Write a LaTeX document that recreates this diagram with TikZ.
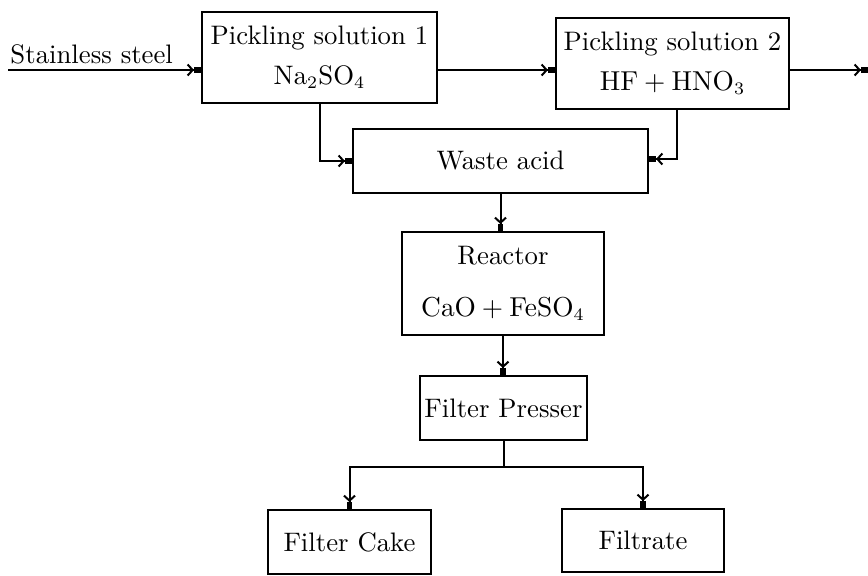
\documentclass[tikz,border=0pt]{standalone}
\usepackage{tikz}
\usetikzlibrary{arrows.meta, positioning, calc}

\begin{document}
\begin{tikzpicture}[x=0.4pt, y=-0.4pt, font=\fontsize{10.7}{13}\selectfont,
        box/.style={draw, line width=0.8pt, align=center, inner sep=0pt},
        flow/.style={line width=0.8pt,
                     -{Straight Barb[length=2pt,width=4.4pt]Square[length=2.8pt,width=2.2pt]}}
    ]
        \useasboundingbox (0,0) rectangle (868,575);

        \node[box, minimum width=94pt,   minimum height=36.4pt] (pick1)   at (319.5,57.5) {Pickling solution 1\\[3pt]Na$_2$SO$_4$};
        \node[box, minimum width=93.2pt, minimum height=36.4pt] (pick2)   at (672.5,63.5) {Pickling solution 2\\[3pt]$\mathrm{HF+HNO_3}$};
        \node[box, minimum width=118pt,  minimum height=25.6pt] (waste)   at (500.5,161)  {Waste acid};
        \node[box, minimum width=80.8pt, minimum height=41.2pt] (reactor) at (503,283.5)  {Reactor\\[8pt]$\mathrm{CaO+FeSO_4}$};
        \node[box, minimum width=66.8pt, minimum height=25.6pt] (presser) at (503.5,408)  {Filter Presser};
        \node[box, minimum width=65.2pt, minimum height=25.6pt] (cake)    at (349.5,542)  {Filter Cake};
        \node[box, minimum width=64.8pt, minimum height=25.2pt] (filtrate) at (643,540.5) {Filtrate};

        \node[anchor=base west, inner sep=0pt] (steel) at (10,63) {Stainless steel};
        \coordinate (ss)  at (8,70);
        \coordinate (out) at (868,70);

        \draw[flow] (ss) -- (ss -| pick1.west);
        \draw[flow] (pick1.east |- ss) -- (pick2.west |- ss);
        \draw[flow] (pick2.east |- ss) -- (out);
        \draw[flow] (pick1.south) |- (waste.west);
        \draw[flow] ([xshift=1.8pt]pick2.south) |- ([yshift=0.8pt]waste.east);
        \draw[flow] (waste.south) -- (waste.south |- reactor.north);
        \draw[flow] (reactor.south) -- (reactor.south |- presser.north);
        \draw[flow] (presser.south) -- ++(0,26) -| (cake.north);
        \draw[flow] (presser.south) -- ++(0,26) -| (filtrate.north);
    \end{tikzpicture}
\end{document}
